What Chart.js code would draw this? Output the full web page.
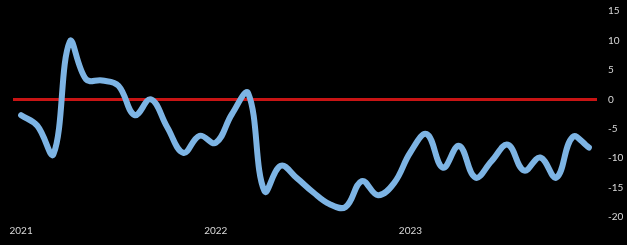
<!DOCTYPE html>
<html>
<head>
<meta charset="utf-8">
<script src="https://cdn.jsdelivr.net/npm/chart.js@4"></script>
<style>
    html, body { margin: 0; padding: 0; background: #000; }
    canvas { display: block; background: #000; }
</style>
</head>
<body>
<canvas id="chart" width="627" height="245"></canvas>
<script>
const months = [
    "2021-01", "2021-02", "2021-03", "2021-04", "2021-05", "2021-06",
    "2021-07", "2021-08", "2021-09", "2021-10", "2021-11", "2021-12",
    "2022-01", "2022-02", "2022-03", "2022-04", "2022-05", "2022-06",
    "2022-07", "2022-08", "2022-09", "2022-10", "2022-11", "2022-12",
    "2023-01", "2023-02", "2023-03", "2023-04", "2023-05", "2023-06",
    "2023-07", "2023-08", "2023-09", "2023-10", "2023-11", "2023-12"
];

const values = [
    -2.7, -4.5, -9.3, 9.8, 3.4, 3.2, 2.3, -2.7, 0.0, -4.7, -9.1, -6.2,
    -7.4, -2.5, 1.0, -15.6, -11.3, -13.4, -15.8, -17.8, -18.3, -13.9, -16.3, -14.2,
    -9.0, -5.9, -11.6, -7.9, -13.3, -10.5, -7.7, -12.1, -9.9, -13.3, -6.4, -8.2
];

const yearLabels = ["2021", "2022", "2023"];
const yTicks = { min: -20, max: 15, step: 5 };

const textColor = "#d9d9d9";
const font = { family: "Lato, 'Open Sans', sans-serif", size: 10 };

const ctx = document.getElementById("chart").getContext("2d");

const chart = new Chart(ctx, {
    type: "line",
    data: {
        labels: months,
        datasets: [{
            data: values,
            borderColor: "#7db4e4",
            borderWidth: 6,
            borderCapStyle: "round",
            borderJoinStyle: "round",
            pointRadius: 0,
            tension: 0.4,
            fill: false
        }]
    },
    options: {
        responsive: false,
        animation: false,
        layout: {
            padding: { left: 13, right: 0, top: 0, bottom: 0 }
        },
        plugins: {
            legend: { display: false },
            tooltip: { enabled: false }
        },
        scales: {
            x: {
                offset: true,
                border: { display: false },
                grid: { display: false, drawTicks: false },
                afterFit: scale => { scale.height = 28; },
                ticks: {
                    color: textColor,
                    font: font,
                    autoSkip: false,
                    maxRotation: 0,
                    padding: 8,
                    callback: function (value, index) {
                        const m = months[index];
                        const year = m.slice(0, 4);
                        return m.endsWith("-01") && yearLabels.includes(year) ? year : "";
                    }
                }
            },
            y: {
                position: "right",
                min: yTicks.min,
                max: yTicks.max,
                border: { display: false },
                afterFit: scale => {
                    scale.width = 30;
                    scale.paddingTop = 11;
                    scale.paddingBottom = 0;
                },
                grid: {
                    drawTicks: false,
                    color: c => c.tick && c.tick.value === 0 ? "#c81414" : "transparent",
                    lineWidth: c => c.tick && c.tick.value === 0 ? 3 : 0
                },
                ticks: {
                    stepSize: yTicks.step,
                    color: textColor,
                    font: font,
                    padding: 11
                }
            }
        }
    }
});
</script>
</body>
</html>
